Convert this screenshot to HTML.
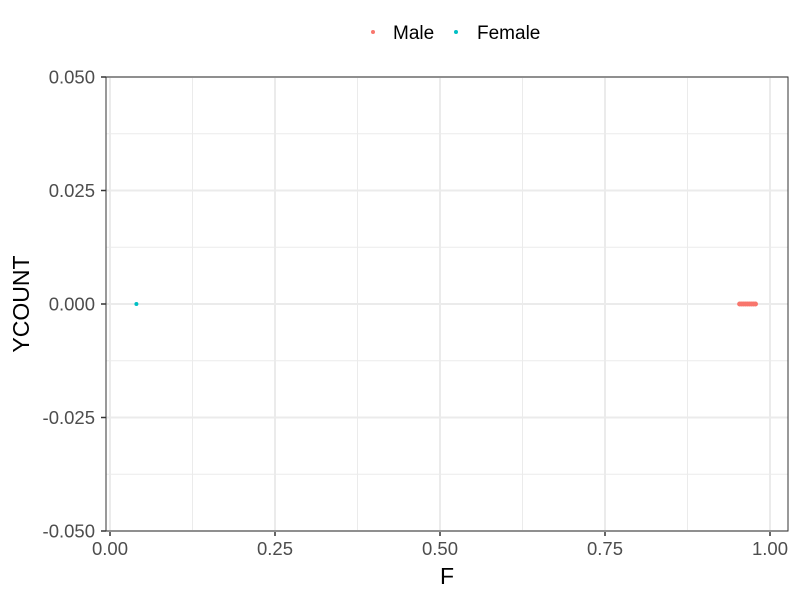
<!DOCTYPE html>
<html><head><meta charset="utf-8"><style>
body{margin:0;background:#fff;font-family:"Liberation Sans",sans-serif;}
</style></head><body>
<svg width="800" height="600" id="chart" font-family="Liberation Sans, sans-serif"></svg>
<script>
const xTicks=[0,0.25,0.5,0.75,1];
const xTickLabels=["0.00","0.25","0.50","0.75","1.00"];
const yTicks=[-0.05,-0.025,0,0.025,0.05];
const yTickLabels=["-0.050","-0.025","0.000","0.025","0.050"];
const maleF=[0.954,0.957,0.960,0.963,0.966,0.969,0.972,0.975,0.978];
const maleY=[0,0,0,0,0,0,0,0,0];
const femaleF=[0.04];
const femaleY=[0];
const L=106,R=788,T=77,B=531;
const sx=v=>110+v*660;
const sy=v=>304-v*4540;
const svg=document.getElementById('chart');
const NS='http://www.w3.org/2000/svg';
function mk(tag,attrs,text){const e=document.createElementNS(NS,tag);for(const k in attrs)e.setAttribute(k,attrs[k]);if(text!==undefined)e.textContent=text;svg.appendChild(e);return e;}
for(let i=0;i<xTicks.length-1;i++){const v=(xTicks[i]+xTicks[i+1])/2;const e=mk('line',{x1:sx(v),x2:sx(v),y1:T,y2:B,stroke:'#ebebeb','stroke-width':1});

}
for(let i=0;i<yTicks.length-1;i++){const v=(yTicks[i]+yTicks[i+1])/2;const e=mk('line',{x1:L,x2:R,y1:sy(v),y2:sy(v),stroke:'#ebebeb','stroke-width':1});

}
xTicks.forEach((v,i)=>{const g=mk('line',{x1:sx(v),x2:sx(v),y1:T,y2:B,stroke:'#ebebeb','stroke-width':2});


const t=mk('line',{x1:sx(v),x2:sx(v),y1:B,y2:B+5,stroke:'#333','stroke-width':1.5});


const l=mk('text',{x:sx(v),y:B+24,'text-anchor':'middle','font-size':18.5,fill:'#4d4d4d'},xTickLabels[i]);

});
yTicks.forEach((v,i)=>{const g=mk('line',{x1:L,x2:R,y1:sy(v),y2:sy(v),stroke:'#ebebeb','stroke-width':2});


const t=mk('line',{x1:L-5,x2:L,y1:sy(v),y2:sy(v),stroke:'#333','stroke-width':1.5});


const l=mk('text',{x:L-11,y:sy(v)+6.5,'text-anchor':'end','font-size':18.5,fill:'#4d4d4d'},yTickLabels[i]);

});
const frame=mk('rect',{x:L,y:T,width:R-L,height:B-T,fill:'none',stroke:'#333','stroke-width':1});


maleF.forEach((v,i)=>{const c=mk('circle',{cx:sx(v),cy:sy(maleY[i]),r:2.5,fill:'#F8766D'});

});
femaleF.forEach((v,i)=>{const c=mk('circle',{cx:sx(v),cy:sy(femaleY[i]),r:2,fill:'#00BFC4'});

});
const xt=mk('text',{x:447,y:584,'text-anchor':'middle','font-size':23,fill:'#000'},'F');


const yt=mk('text',{x:0,y:0,'text-anchor':'middle','font-size':23,fill:'#000',transform:'translate(29,304) rotate(-90)'},'YCOUNT');


const lm=mk('circle',{cx:373,cy:32,r:2,fill:'#F8766D'});


const lmt=mk('text',{x:393,y:39,'font-size':19,fill:'#000'},'Male');


const lf=mk('circle',{cx:456,cy:32,r:2,fill:'#00BFC4'});


const lft=mk('text',{x:477,y:39,'font-size':19,fill:'#000'},'Female');


</script>
</body></html>
